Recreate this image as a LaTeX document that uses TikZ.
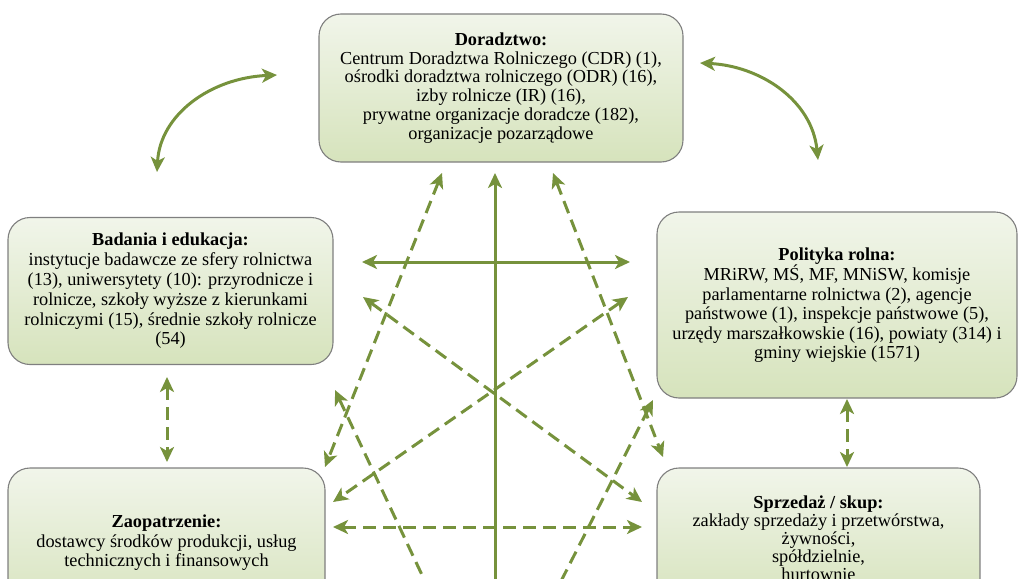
\documentclass[tikz,border=0pt]{standalone}
\usepackage{fontspec}
\setmainfont{Liberation Serif}
\usetikzlibrary{arrows.meta}
\definecolor{arr}{HTML}{76923C}
\definecolor{boxtop}{HTML}{F1F5EA}
\definecolor{boxbot}{HTML}{D6E3BC}
\definecolor{boxedge}{HTML}{7F7F7F}
\begin{document}
\begin{tikzpicture}[x=1pt,y=-1pt,
  box/.style={draw=boxedge, line width=1.1pt, rounded corners=22pt,
    top color=boxtop, bottom color=boxbot, align=center,
    font=\fontsize{18.3}{19.4}\selectfont, inner sep=0pt},
  link/.style={draw=arr, line width=3pt, {Stealth[length=15pt,width=14pt,inset=4pt]}-{Stealth[length=15pt,width=14pt,inset=4pt]}},
  dlink/.style={link, dash pattern=on 13pt off 7pt},
]
\useasboundingbox (0,0) rectangle (1019,578);
\clip (0,0) rectangle (1019,578);

% boxes
\node[box, minimum width=364pt, minimum height=148pt, font=\fontsize{18.3}{18.9}\selectfont] (dor) at (501,88)
 {\textbf{Doradztwo:}\\
  Centrum Doradztwa Rolniczego (CDR) (1),\\
  ośrodki doradztwa rolniczego (ODR) (16),\\
  izby rolnicze (IR) (16),\\
  prywatne organizacje doradcze (182),\\
  organizacje pozarządowe};
\node[box, minimum width=325pt, minimum height=147pt, font=\fontsize{18.3}{19.8}\selectfont] (bad) at (170.5,291)
 {\textbf{Badania i edukacja:}\\
  instytucje badawcze ze sfery rolnictwa\\
  (13), uniwersytety (10): przyrodnicze i\\
  rolnicze, szkoły wyższe z kierunkami\\
  rolniczymi (15), średnie szkoły rolnicze\\
  (54)};
\node[box, minimum width=360pt, minimum height=186pt] (pol) at (837,305)
 {\textbf{Polityka rolna:}\\
  MRiRW, MŚ, MF, MNiSW, komisje\\
  parlamentarne rolnictwa (2), agencje\\
  państwowe (1), inspekcje państwowe (5),\\
  urzędy marszałkowskie (16), powiaty (314) i\\
  gminy wiejskie (1571)};
\node[box, minimum width=317pt, minimum height=150pt] (zao) at (166.5,543)
 {\textbf{Zaopatrzenie:}\\
  dostawcy środków produkcji, usług\\
  technicznych i finansowych};
\node[box, minimum width=323pt, minimum height=140pt, font=\fontsize{18.3}{18}\selectfont] (spr) at (818.5,538)
 {\textbf{Sprzedaż / skup:}\\
  zakłady sprzedaży i przetwórstwa,\\
  żywności,\\
  spółdzielnie,\\
  hurtownie};

% arrow end points
\coordinate (vb) at (495,650);
\coordinate (vt) at (495,173);
\coordinate (hl) at (362,262);
\coordinate (hr) at (630,262);
\coordinate (d1a) at (442,173);
\coordinate (d1b) at (325,467);
\coordinate (d2a) at (553,173);
\coordinate (d2b) at (663,457);
\coordinate (x1a) at (363,297);
\coordinate (x1b) at (642,502);
\coordinate (x2a) at (628,297);
\coordinate (x2b) at (333,502);
\coordinate (hdl) at (333,527);
\coordinate (hdr) at (642,527);
\coordinate (l3a) at (335,390);
\coordinate (l3b) at (462,660);
\coordinate (r3a) at (653,400);
\coordinate (r3b) at (521,660);
\coordinate (lva) at (167,377);
\coordinate (lvb) at (167,462);
\coordinate (rva) at (847,399);
\coordinate (rvb) at (847,467);
\coordinate (cla) at (157,172);
\coordinate (clb) at (277,75);
\coordinate (cra) at (700,63);
\coordinate (crb) at (818,160);

% solid connectors
\draw[link] (vb) -- (vt);
\draw[link] (hl) -- (hr);
\draw[link] (cla) .. controls (160,115) and (210,78) .. (clb);
\draw[link] (cra) .. controls (760,66) and (812,100) .. (crb);

% dashed connectors
\draw[dlink] (d1a) -- (d1b);
\draw[dlink] (d2a) -- (d2b);
\draw[dlink] (x1a) -- (x1b);
\draw[dlink] (x2a) -- (x2b);
\draw[dlink] (hdl) -- (hdr);
\draw[dlink] (l3a) -- (l3b);
\draw[dlink] (r3a) -- (r3b);
\draw[dlink] (lva) -- (lvb);
\draw[dlink] (rva) -- (rvb);
\end{tikzpicture}
\end{document}
